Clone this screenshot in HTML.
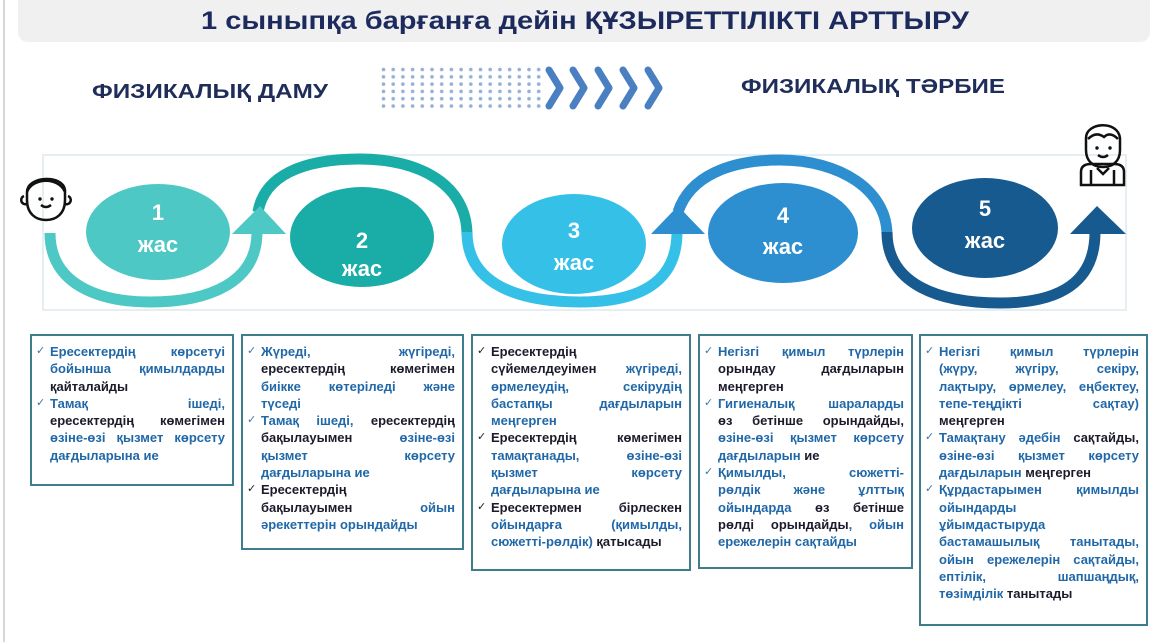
<!DOCTYPE html>
<html><head><meta charset="utf-8"><style>
body{margin:0;width:1170px;height:642px;background:#fff;position:relative;overflow:hidden;font-family:"Liberation Sans",sans-serif}
.box{position:absolute;border:2px solid #3e7d8c;box-sizing:border-box;padding:7px 7px 0 18px;font-weight:bold;font-size:13px;line-height:17.3px;color:#2168a8}
.box p{margin:0;position:relative}
.box p:before{content:"✓";position:absolute;left:-14px;top:0;font-size:11px;color:#3a78a8;font-weight:normal}
.box p.k:before{color:#222}
.box span{display:block;text-align:justify;text-align-last:justify;white-space:nowrap}
.box span.l{text-align-last:left}
b{color:#1b1b2b}
</style></head><body>
<div style="position:absolute;left:3px;top:0;width:2px;height:642px;background:#d8d8d8"></div>
<svg width="1170" height="642" style="position:absolute;left:0;top:0">
<rect x="18" y="-10" width="1132" height="52" rx="10" fill="#f0f0f0"/>
<text x="585" y="29" text-anchor="middle" font-family="Liberation Sans" font-weight="bold" font-size="25" fill="#1c2a5e" textLength="768" lengthAdjust="spacingAndGlyphs">1 сыныпқа барғанға дейін ҚҰЗЫРЕТТІЛІКТІ АРТТЫРУ</text>
<text x="92" y="98" font-family="Liberation Sans" font-weight="bold" font-size="20" fill="#1f2d5a" textLength="236" lengthAdjust="spacingAndGlyphs">ФИЗИКАЛЫҚ ДАМУ</text>
<text x="741" y="93" font-family="Liberation Sans" font-weight="bold" font-size="20" fill="#1f2d5a" textLength="264" lengthAdjust="spacingAndGlyphs">ФИЗИКАЛЫҚ ТӘРБИЕ</text>
<defs><pattern id="dp" x="381" y="67" width="9.7" height="7.3" patternUnits="userSpaceOnUse"><circle cx="2.5" cy="2.5" r="1.8" fill="#94b0d6"/></pattern></defs>
<rect x="381" y="67" width="165" height="44" fill="url(#dp)"/>
<g fill="none" stroke="#4a80c2" stroke-width="7" stroke-linecap="round" stroke-linejoin="round">
<polyline points="549,70 560,88 549,106"/><polyline points="573,70 584,88 573,106"/><polyline points="598,70 609,88 598,106"/><polyline points="623,70 634,88 623,106"/><polyline points="648,70 659,88 648,106"/>
</g>
<rect x="43" y="155" width="1083" height="155" fill="none" stroke="#e4eef3" stroke-width="2"/>
<ellipse cx="158" cy="232" rx="72" ry="48" fill="#4ec8c4"/>
<ellipse cx="362" cy="237" rx="72" ry="50" fill="#1aada8"/>
<ellipse cx="574" cy="244" rx="72" ry="50" fill="#35c0e8"/>
<ellipse cx="783" cy="233" rx="75" ry="50" fill="#2e8fd0"/>
<ellipse cx="985" cy="228" rx="73" ry="50" fill="#175a8f"/>
<g font-family="Liberation Sans" font-weight="bold" font-size="22" fill="#fff" text-anchor="middle">
<text x="158" y="220">1</text><text x="158" y="252">жас</text>
<text x="362" y="248">2</text><text x="362" y="276">жас</text>
<text x="574" y="238">3</text><text x="574" y="270">жас</text>
<text x="783" y="223">4</text><text x="783" y="254">жас</text>
<text x="985" y="216">5</text><text x="985" y="248">жас</text>
</g>
<g fill="none" stroke-width="11">
<path d="M50,233 C50,285 100,302 150,302 C210,302 257,282 257,232" stroke="#4ec8c4"/>
<path d="M258,212 C264,176 302,159 360,159 C420,159 467,185 467,235" stroke="#1aada8"/>
<path d="M467,232 C467,285 520,302 580,302 C640,302 677,282 677,232" stroke="#35c0e8"/>
<path d="M678,212 C690,176 730,160 780,160 C840,160 887,190 887,235" stroke="#2e8fd0"/>
<path d="M887,232 C887,285 940,303 1000,303 C1060,303 1095,282 1095,232" stroke="#175a8f"/>
</g>
<polygon points="232,234 286,234 260,206" fill="#4ec8c4"/>
<polygon points="651,234 705,234 678,206" fill="#2e8fd0"/>
<polygon points="1070,234 1126,234 1097,206" fill="#175a8f"/>
<g fill="none" stroke="#111" stroke-width="2.5">
<path d="M27,192 C27,176 63,174 65,190 L65,200 C65,214 56,220 46,220 C36,220 27,214 27,200 Z"/>
<path d="M27,192 C32,178 58,176 65,192"/><path d="M24,196 a4,4 0 0 0 3,8 M68,196 a4,4 0 0 1 -3,8"/>
<path d="M41,205 q5,4 10,0"/>
<path d="M1086,138 C1086,122 1118,120 1120,138 L1120,150 C1120,162 1112,167 1103,167 C1094,167 1086,162 1086,150 Z"/>
<path d="M1088,139 q8,-8 16,-2 q6,-6 14,2"/>
<path d="M1098,155 q5,4 10,0"/>
<path d="M1081,185 L1081,172 q0,-8 10,-8 L1114,164 q10,0 10,8 L1124,185 Z M1091,170 L1091,185 M1114,170 L1114,185 M1097,168 l6,6 l6,-6"/>
</g>
<circle cx="40" cy="199" r="1.7" fill="#111"/><circle cx="52" cy="199" r="1.7" fill="#111"/>
<circle cx="1097" cy="148" r="1.7" fill="#111"/><circle cx="1110" cy="148" r="1.7" fill="#111"/>
</svg>

<div class="box" style="left:30px;top:334px;width:204px;height:152px">
<p><span>Ересектердің көрсетуі</span><span>бойынша қимылдарды</span><span class="l"><b>қайталайды</b></span></p>
<p><span>Тамақ ішеді,</span><span><b>ересектердің көмегімен</b></span><span>өзіне-өзі қызмет көрсету</span><span class="l">дағдыларына ие</span></p>
</div>
<div class="box" style="left:241px;top:334px;width:223px;height:216px">
<p><span>Жүреді, жүгіреді,</span><span><b>ересектердің көмегімен</b></span><span>биікке көтеріледі және</span><span class="l">түседі</span></p>
<p><span>Тамақ ішеді, <b>ересектердің</b></span><span><b>бақылауымен</b> өзіне-өзі</span><span>қызмет көрсету</span><span class="l">дағдыларына ие</span></p>
<p class="k"><span class="l"><b>Ересектердің</b></span><span><b>бақылауымен</b> ойын</span><span class="l">әрекеттерін орындайды</span></p>
</div>
<div class="box" style="left:471px;top:334px;width:220px;height:237px">
<p class="k"><span class="l"><b>Ересектердің</b></span><span><b>сүйемелдеуімен</b> жүгіреді,</span><span>өрмелеудің, секірудің</span><span>бастапқы дағдыларын</span><span class="l">меңгерген</span></p>
<p class="k"><span><b>Ересектердің көмегімен</b></span><span>тамақтанады, өзіне-өзі</span><span>қызмет көрсету</span><span class="l">дағдыларына ие</span></p>
<p class="k"><span><b>Ересектермен бірлескен</b></span><span>ойындарға (қимылды,</span><span class="l">сюжетті-рөлдік) <b>қатысады</b></span></p>
</div>
<div class="box" style="left:698px;top:334px;width:215px;height:235px">
<p><span>Негізгі қимыл түрлерін</span><span><b>орындау дағдыларын</b></span><span class="l"><b>меңгерген</b></span></p>
<p><span>Гигиеналық шараларды</span><span><b>өз бетінше орындайды,</b></span><span>өзіне-өзі қызмет көрсету</span><span class="l">дағдыларын <b>ие</b></span></p>
<p><span>Қимылды, сюжетті-</span><span>рөлдік және ұлттық</span><span>ойындарда <b>өз бетінше</b></span><span><b>рөлді орындайды</b>, ойын</span><span class="l">ережелерін сақтайды</span></p>
</div>
<div class="box" style="left:919px;top:334px;width:229px;height:292px">
<p><span>Негізгі қимыл түрлерін</span><span>(жүру, жүгіру, секіру,</span><span>лақтыру, өрмелеу, еңбектеу,</span><span>тепе-теңдікті сақтау)</span><span class="l"><b>меңгерген</b></span></p>
<p><span>Тамақтану әдебін <b>сақтайды,</b></span><span>өзіне-өзі қызмет көрсету</span><span class="l">дағдыларын <b>меңгерген</b></span></p>
<p><span>Құрдастарымен қимылды</span><span class="l">ойындарды</span><span class="l">ұйымдастыруда</span><span>бастамашылық танытады,</span><span>ойын ережелерін сақтайды,</span><span>ептілік, шапшаңдық,</span><span class="l">төзімділік <b>танытады</b></span></p>
</div>
</body></html>
